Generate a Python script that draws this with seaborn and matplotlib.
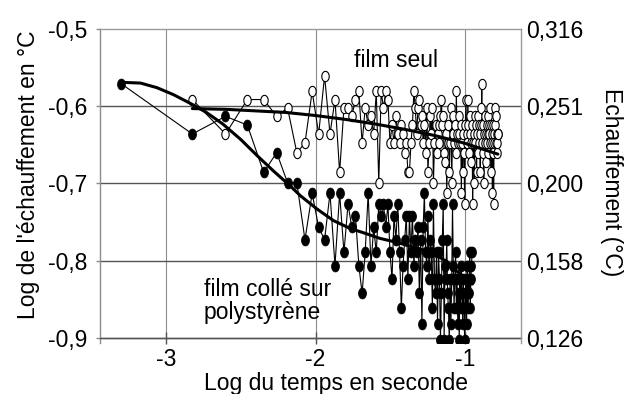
import numpy as np
import pandas as pd
import matplotlib
matplotlib.use("Agg")
import matplotlib.pyplot as plt
from matplotlib.path import Path
import seaborn as sns

# ---------------- data ----------------
# temperature rise, in counts of 1/160 degC (quantised acquisition)
temp_step = 1.0 / 160.0
sample_period = 0.001          # s
black_first_time = 0.0005      # s
white_first_time = 0.0015      # s

# film colle sur polystyrene (filled markers)
black_counts = [43, 37, 39, 38, 33, 35, 32, 32, 27, 31, 28, 27, 31, 25, 31, 26,
                30, 28, 29, 25, 23, 26, 31, 25,
                28, 26, 30, 29, 30, 28,
                30, 26, 24, 29, 27, 30,
                26, 22, 25, 27, 29,
                24, 29, 26, 29, 25,
                27, 26, 28, 23, 27,
                21, 28, 31, 26, 25,
                29, 24, 27, 26, 22,
                30, 24, 23, 26, 21,
                26, 24, 20, 23, 27,
                30, 20, 25, 24, 27,
                23, 22, 20, 24, 21,
                24, 30, 25, 22, 24,
                26, 22, 24, 21, 23,
                20, 24, 22, 25, 23,
                21, 24, 22, 20, 23,
                24, 21, 25, 22, 24,
                23, 26, 22, 24, 25,
                26]

# film seul (open markers)
white_counts = [41, 37, 41, 41, 39, 40, 35, 36, 42, 37, 44, 37, 41, 33, 40, 40,
                39, 41, 42, 36, 40, 38, 39, 37, 42, 32, 42, 40, 42, 41,
                36, 38, 36, 39, 37, 36, 38, 37, 35, 36, 33, 33, 36, 38, 42, 40, 37, 40, 41, 38,
                39, 36, 38, 35, 40, 33, 36, 39, 37, 40, 32, 36, 38, 35, 37, 38, 36, 39, 41, 38,
                39, 35, 34, 37, 31, 36, 38, 33, 36, 40, 32, 37, 39, 36, 38, 35, 42, 37, 36, 39,
                37, 36, 38, 31, 36, 33, 37, 35, 30, 38, 41, 37, 36, 41, 38, 35, 37, 39, 34, 36,
                38, 30, 36, 37, 32, 39, 36, 38, 33, 37, 35, 39, 36, 38, 37, 33, 40, 38, 43, 36,
                35, 38, 32, 37, 36, 39, 34, 37, 38, 36, 37, 39, 35, 38, 37, 40, 36, 38, 33, 37,
                36, 31, 38, 35, 30, 37, 36, 40, 38, 36, 39, 37, 35, 36, 37, 37]

# trend curves (log time, log temperature)
white_trend_x = [-2.824, -2.6, -2.4, -2.2, -2.0, -1.8, -1.6, -1.4, -1.2, -1.0, -0.78]
white_trend_y = [-0.603, -0.604, -0.606, -0.608, -0.612, -0.617, -0.623, -0.630,
                 -0.638, -0.648, -0.662]
black_trend_x = [-3.30, -3.17, -3.06, -2.95, -2.84, -2.73, -2.62, -2.50, -2.39, -2.28,
                 -2.17, -2.10, -1.99, -1.88, -1.77, -1.66, -1.57, -1.46, -1.35, -1.23,
                 -1.12, -1.07, -0.95]
black_trend_y = [-0.569, -0.570, -0.576, -0.585, -0.596, -0.608, -0.623, -0.643, -0.664,
                 -0.684, -0.703, -0.716, -0.733, -0.748, -0.758, -0.765, -0.771, -0.776,
                 -0.782, -0.789, -0.801, -0.811, -0.830]

y_ticks = [-0.9, -0.8, -0.7, -0.6, -0.5]
x_ticks = [-3, -2, -1]

label_x = "Log du temps en seconde"
label_y = "Log de l'échauffement en °C"
label_y2 = "Echauffement (°C)"
text_seul = "film seul"
text_colle_1 = "film collé sur"
text_colle_2 = "polystyrène"

# ---------------- build tables ----------------
black_df = pd.DataFrame({
    "logt": np.log10(black_first_time + sample_period * np.arange(len(black_counts))),
    "logT": np.log10(np.array(black_counts) * temp_step),
})
white_df = pd.DataFrame({
    "logt": np.log10(white_first_time + sample_period * np.arange(len(white_counts))),
    "logT": np.log10(np.array(white_counts) * temp_step),
})

# ---------------- style ----------------
sns.set_style("white")
plt.rcParams["font.family"] = ["Liberation Sans", "DejaVu Sans"]
plt.rcParams["axes.unicode_minus"] = False
plt.rcParams["text.color"] = "black"
plt.rcParams["axes.labelcolor"] = "black"
plt.rcParams["xtick.labelcolor"] = "black"
plt.rcParams["ytick.labelcolor"] = "black"
FS = 16.5

theta = np.linspace(0, 2 * np.pi, 41)
ellipse = Path(np.column_stack([0.36 * np.cos(theta), 0.5 * np.sin(theta)]), closed=True)

fig = plt.figure(figsize=(6.25, 3.94), dpi=100)
ax = fig.add_axes([0.16, 0.1294, 0.6736, 0.797])

sns.lineplot(data=black_df, x="logt", y="logT", ax=ax, color="black", linewidth=0.8,
             marker=ellipse, markersize=7.8, markerfacecolor="black",
             markeredgecolor="black", markeredgewidth=0.6,
             estimator=None, errorbar=None, sort=False, zorder=3)
sns.lineplot(data=white_df, x="logt", y="logT", ax=ax, color="black", linewidth=0.8,
             marker=ellipse, markersize=7.4, markerfacecolor="white",
             markeredgecolor="black", markeredgewidth=0.8,
             estimator=None, errorbar=None, sort=False, zorder=4)
sns.lineplot(x=white_trend_x, y=white_trend_y, ax=ax, color="black", linewidth=2.2,
             estimator=None, errorbar=None, sort=False, zorder=5)
sns.lineplot(x=black_trend_x, y=black_trend_y, ax=ax, color="black", linewidth=2.2,
             estimator=None, errorbar=None, sort=False, zorder=5)

ax.set_xlim(-3.4415, -0.6254)
ax.set_ylim(-0.9065, -0.5)
ax.set_xticks(x_ticks)
ax.set_xticklabels([f"{v:d}" for v in x_ticks])
ax.set_yticks(y_ticks)
ax.set_yticklabels([f"{v:.1f}".replace(".", ",") for v in y_ticks])

ax.set_axisbelow(True)
ax.yaxis.grid(True, color="#555555", linewidth=1.0)
ax.xaxis.grid(True, color="#8c8c8c", linewidth=0.8)
ax.get_ygridlines()[-1].set_visible(False)

ax.spines["left"].set_color("#8c8c8c")
ax.spines["left"].set_linewidth(1.0)
ax.spines["top"].set_color("#9a9a9a")
ax.spines["top"].set_linewidth(1.0)
ax.spines["right"].set_visible(False)
ax.spines["bottom"].set_position(("data", -0.9))
ax.spines["bottom"].set_color("#555555")
ax.spines["bottom"].set_linewidth(1.0)

ax.tick_params(axis="x", direction="inout", length=9, width=1, color="#555555",
               pad=3, labelsize=FS, labelcolor="black", bottom=True)
ax.tick_params(axis="y", direction="out", length=3, width=1, color="#8c8c8c",
               pad=6, labelsize=FS, labelcolor="black", left=True)

ax.set_xlabel(label_x, fontsize=FS, color="black")
ax.xaxis.set_label_coords(0.5617, -0.092)
ax.set_ylabel(label_y, fontsize=FS, va="center", ha="center", color="black")
ax.yaxis.set_label_coords(-0.171, 0.535)

ax2 = ax.twinx()
ax2.set_ylim(ax.get_ylim())
ax2.set_yticks(y_ticks)
ax2.set_yticklabels([f"{10 ** v:.3f}".replace(".", ",") for v in y_ticks])
ax2.tick_params(axis="y", length=0, pad=4, labelsize=FS, labelcolor="black")
for s in ["left", "top", "bottom"]:
    ax2.spines[s].set_visible(False)
ax2.spines["right"].set_color("#9a9a9a")
ax2.spines["right"].set_linewidth(1.0)
ax2.set_ylabel(label_y2, fontsize=FS, rotation=-90, va="center", ha="center", color="black")
ax2.yaxis.set_label_coords(1.2138, 0.513)

ax.text(-1.463, -0.5487, text_seul, fontsize=FS, ha="center", va="baseline",
        color="black", zorder=6)
ax.text(-2.746, -0.846, text_colle_1, fontsize=FS, ha="left", va="baseline",
        color="black", zorder=6)
ax.text(-2.746, -0.8757, text_colle_2, fontsize=FS, ha="left", va="baseline",
        color="black", zorder=6)

fig.savefig("out.png", dpi=100, facecolor="white")
